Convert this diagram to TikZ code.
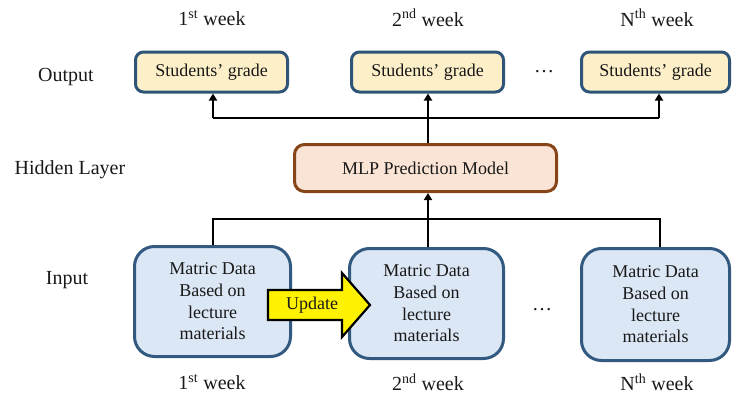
\documentclass[tikz,border=0pt]{standalone}
\usepackage{fontspec}
\setmainfont{Liberation Serif}
\usetikzlibrary{arrows.meta}
\definecolor{outfill}{RGB}{253,240,201}
\definecolor{outdraw}{RGB}{46,84,120}
\definecolor{mlpfill}{RGB}{250,228,213}
\definecolor{mlpdraw}{RGB}{135,68,22}
\definecolor{infill}{RGB}{219,231,245}
\definecolor{indraw}{RGB}{50,90,128}
\definecolor{txt}{RGB}{25,25,25}
\tikzset{
  boxtext/.style={font=\fontsize{18}{21.7}\selectfont, text=txt, align=center, inner sep=0pt},
  outbox/.style={boxtext, draw=outdraw, fill=outfill, line width=3pt, rounded corners=8pt, minimum width=152pt, minimum height=40pt},
  mlpbox/.style={boxtext, draw=mlpdraw, fill=mlpfill, line width=3pt, rounded corners=10pt, minimum width=262pt, minimum height=47pt},
  inbox/.style={boxtext, draw=indraw, fill=infill, line width=3pt, rounded corners=20pt, minimum height=110pt},
  lbl/.style={font=\fontsize{20}{24}\selectfont, text=txt, inner sep=0pt},
  conn/.style={line width=2.8pt, black},
  arr/.style={conn, -{Triangle[length=7pt,width=8pt]}},
  updarrow/.style={fill=yellow, draw=black, line width=2.2pt, line join=miter}
}
\begin{document}
\begin{tikzpicture}[x=1pt,y=-1pt]
\useasboundingbox (0,0) rectangle (732,394);
% side labels
\node[lbl] (lout) at (66,77) {Output};
\node[lbl] (lhid) at (70,170) {Hidden Layer};
\node[lbl] (lin) at (67,280) {Input};
% top week labels
\node[lbl] (t1) at (212,18) {1\textsuperscript{st} week};
\node[lbl] (t2) at (428,18) {2\textsuperscript{nd} week};
\node[lbl] (t3) at (657,18) {N\textsuperscript{th} week};
% bottom week labels
\node[lbl] (b1) at (212,382) {1\textsuperscript{st} week};
\node[lbl] (b2) at (428,382) {2\textsuperscript{nd} week};
\node[lbl] (b3) at (657,382) {N\textsuperscript{th} week};
% output boxes
\node[outbox] (out1) at (211.5,72) {Students' grade};
\node[outbox] (out2) at (427.5,72) {Students' grade};
\node[outbox, minimum width=148pt] (out3) at (655.5,72) {Students' grade};
\node[lbl] (dots1) at (544,72) {\dots};
% hidden
\node[mlpbox] (mlp) at (425.5,168) {MLP Prediction Model};
% input boxes
\node[inbox, minimum width=156pt] (in1) at (212.5,301.5) {Matric Data\\Based on\\lecture\\materials};
\node[inbox, minimum width=154pt] (in2) at (426.5,303.5) {Matric Data\\Based on\\lecture\\materials};
\node[inbox, minimum width=148pt, minimum height=112pt] (in3) at (655.5,304.5) {Matric Data\\Based on\\lecture\\materials};
\node[lbl] (dots2) at (542,310) {\dots};
% connectors
\coordinate (hb) at (428,219);
\coordinate (ht) at (428,118);
\draw[conn] ([xshift=0.5pt]in1.north) |- ([xshift=4.5pt]in3.north |- hb) -- ([xshift=4.5pt]in3.north);
\draw[arr] (hb |- in2.north) -- (hb |- mlp.south);
\draw[conn] (ht |- mlp.north) -- (ht);
\draw[conn] ([xshift=1.5pt]out1.south |- ht) -- ([xshift=3.5pt]out3.south |- ht);
\draw[arr] ([xshift=1.5pt]out1.south |- ht) -- ([xshift=1.5pt]out1.south);
\draw[arr] (ht) -- (ht |- out2.south);
\draw[arr] ([xshift=3.5pt]out3.south |- ht) -- ([xshift=3.5pt]out3.south);
% update arrow
\draw[updarrow] (268,290) -- (342,290) -- (342,273) -- (370,305) -- (342,337) -- (342,320) -- (268,320) -- cycle;
\node[boxtext] (upd) at (312,305) {Update};
\end{tikzpicture}
\end{document}
